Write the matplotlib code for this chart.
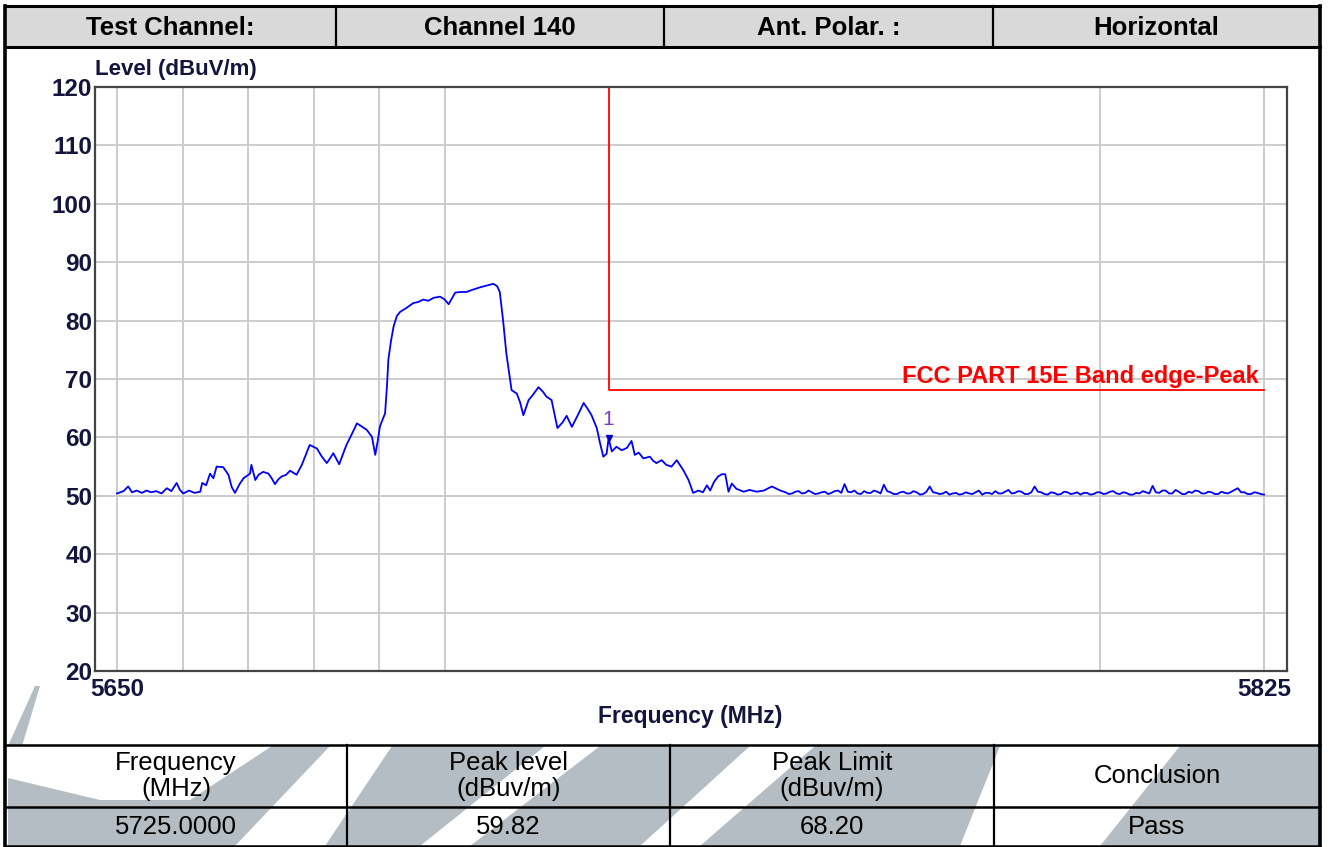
import matplotlib
matplotlib.use('Agg')
import matplotlib.pyplot as plt
from matplotlib.patches import Polygon, Rectangle

plt.rcParams['font.family'] = ['Liberation Sans', 'DejaVu Sans']

# ---------- DATA ----------
header_cells = ['Test Channel:', 'Channel 140', 'Ant. Polar. :', 'Horizontal']
table_heads = ['Frequency\n(MHz)', 'Peak level\n(dBuv/m)', 'Peak Limit\n(dBuv/m)', 'Conclusion']
table_vals = ['5725.0000', '59.82', '68.20', 'Pass']

# measured trace, in-band and skirt (MHz, dBuV/m)
band_freq = [
    5650.0, 5651.0, 5651.7, 5652.3, 5653.0, 5653.8, 5654.5, 5655.2, 5656.0, 5656.8,
    5657.6, 5658.3, 5659.1, 5659.6, 5660.1, 5661.0, 5661.8, 5662.7, 5663.0, 5663.6,
    5664.2, 5664.7, 5665.2, 5666.2, 5667.0, 5667.5, 5668.0, 5668.7, 5669.3, 5670.3,
    5670.5, 5671.1, 5671.6, 5672.3, 5673.1, 5673.6, 5674.1, 5674.6, 5675.1, 5675.8,
    5676.4, 5677.4, 5678.2, 5678.8, 5679.4, 5680.5, 5681.2, 5682.0, 5682.5, 5683.0,
    5683.9, 5684.5, 5685.0, 5685.8, 5686.6, 5687.3, 5688.1, 5688.9, 5689.4, 5689.8,
    5690.1, 5690.5, 5690.9, 5691.2, 5691.4, 5691.8, 5692.2, 5692.7, 5693.2, 5694.2,
    5695.2, 5696.0, 5696.7, 5697.5, 5698.3, 5699.3, 5700.0, 5700.6, 5701.1, 5701.6,
    5702.4, 5703.3, 5704.3, 5705.4, 5706.4, 5707.4, 5708.0, 5708.4, 5708.9, 5709.4,
    5710.2, 5711.0, 5711.5, 5712.0, 5712.8, 5713.4, 5714.3, 5715.0, 5715.5, 5716.3,
    5717.2, 5718.0, 5718.6, 5719.4, 5720.3, 5721.2, 5721.8, 5722.4, 5723.2, 5723.7,
    5724.2, 5724.7, 5725.0, 5725.5, 5726.2, 5727.0, 5727.8, 5728.5, 5729.0, 5729.6,
    5730.3, 5731.3, 5731.8, 5732.3, 5733.1, 5733.8, 5734.6, 5735.4, 5736.4, 5737.2,
    5737.9, 5738.7, 5739.4, 5740.0, 5740.5, 5741.1, 5741.7, 5742.3, 5742.8, 5743.3,
    5743.8, 5744.5, 5745.6, 5746.5, 5747.6, 5748.7, 5749.9, 5751.2,
]
band_level = [
    50.4, 50.8, 51.6, 50.6, 50.9, 50.5, 50.9, 50.6, 50.8, 50.4,
    51.3, 50.8, 52.2, 51.0, 50.4, 50.9, 50.5, 50.7, 52.2, 51.8,
    53.8, 53.0, 55.0, 54.9, 53.6, 51.5, 50.5, 52.0, 53.0, 53.8,
    55.3, 52.7, 53.6, 54.1, 53.8, 53.0, 52.0, 52.8, 53.3, 53.6,
    54.3, 53.6, 55.3, 57.0, 58.7, 58.1, 56.8, 55.6, 56.4, 57.3,
    55.4, 57.2, 58.7, 60.5, 62.4, 61.9, 61.3, 60.1, 57.0, 59.5,
    61.8, 63.0, 64.1, 69.0, 73.3, 76.5, 79.0, 80.8, 81.5, 82.2,
    83.0, 83.2, 83.6, 83.4, 83.9, 84.1, 83.6, 82.8, 83.8, 84.8,
    84.9, 84.9, 85.3, 85.7, 86.0, 86.3, 85.9, 84.9, 80.1, 74.4,
    68.1, 67.5, 66.0, 63.8, 66.4, 67.2, 68.6, 67.8, 67.0, 66.4,
    61.6, 62.6, 63.7, 61.8, 63.8, 65.9, 64.9, 63.8, 61.6, 59.0,
    56.7, 57.2, 59.8, 57.6, 58.4, 57.8, 58.2, 59.4, 57.0, 57.4,
    56.4, 56.7, 56.0, 55.6, 56.1, 55.3, 55.0, 56.1, 54.4, 52.7,
    50.5, 50.9, 50.6, 51.8, 50.9, 52.4, 53.3, 53.7, 53.7, 50.7,
    52.1, 51.2, 50.7, 51.0, 50.7, 50.9, 51.6, 50.9,
]

# measured trace, noise floor above the band edge
floor_freq = [
    5752.0, 5752.5, 5753.0, 5753.5, 5754.0, 5754.5, 5755.0, 5755.5, 5756.0, 5756.5,
    5757.0, 5757.5, 5758.0, 5758.5, 5759.0, 5759.5, 5760.0, 5760.5, 5761.0, 5761.5,
    5762.0, 5762.5, 5763.0, 5763.5, 5764.0, 5764.5, 5765.0, 5765.5, 5766.0, 5766.5,
    5767.0, 5767.5, 5768.0, 5768.5, 5769.0, 5769.5, 5770.0, 5770.5, 5771.0, 5771.5,
    5772.0, 5772.5, 5773.0, 5773.5, 5774.0, 5774.5, 5775.0, 5775.5, 5776.0, 5776.5,
    5777.0, 5777.5, 5778.0, 5778.5, 5779.0, 5779.5, 5780.0, 5780.5, 5781.0, 5781.5,
    5782.0, 5782.5, 5783.0, 5783.5, 5784.0, 5784.5, 5785.0, 5785.5, 5786.0, 5786.5,
    5787.0, 5787.5, 5788.0, 5788.5, 5789.0, 5789.5, 5790.0, 5790.5, 5791.0, 5791.5,
    5792.0, 5792.5, 5793.0, 5793.5, 5794.0, 5794.5, 5795.0, 5795.5, 5796.0, 5796.5,
    5797.0, 5797.5, 5798.0, 5798.5, 5799.0, 5799.5, 5800.0, 5800.5, 5801.0, 5801.5,
    5802.0, 5802.5, 5803.0, 5803.5, 5804.0, 5804.5, 5805.0, 5805.5, 5806.0, 5806.5,
    5807.0, 5807.5, 5808.0, 5808.5, 5809.0, 5809.5, 5810.0, 5810.5, 5811.0, 5811.5,
    5812.0, 5812.5, 5813.0, 5813.5, 5814.0, 5814.5, 5815.0, 5815.5, 5816.0, 5816.5,
    5817.0, 5817.5, 5818.0, 5818.5, 5819.0, 5819.5, 5820.0, 5820.5, 5821.0, 5821.5,
    5822.0, 5822.5, 5823.0, 5823.5, 5824.0, 5824.5, 5825.0,
]
floor_level = [
    50.6, 50.3, 50.4, 50.7, 50.8, 50.4, 50.5, 50.9, 50.6, 50.3,
    50.4, 50.6, 50.7, 50.3, 50.5, 50.8, 50.9, 50.5, 52.0, 50.7,
    50.6, 50.9, 50.4, 50.3, 50.8, 50.5, 50.5, 50.9, 50.7, 50.4,
    51.9, 50.8, 50.6, 50.3, 50.3, 50.6, 50.7, 50.4, 50.4, 50.8,
    50.6, 50.2, 50.3, 50.7, 51.6, 50.6, 50.5, 50.3, 50.4, 50.7,
    50.2, 50.4, 50.5, 50.2, 50.3, 50.6, 50.4, 50.3, 50.6, 50.9,
    50.2, 50.5, 50.5, 50.3, 50.8, 50.4, 50.4, 50.7, 51.0, 50.4,
    50.5, 50.8, 50.7, 50.3, 50.3, 50.6, 51.6, 50.7, 50.6, 50.3,
    50.2, 50.6, 50.5, 50.2, 50.3, 50.7, 50.6, 50.3, 50.4, 50.6,
    50.2, 50.5, 50.5, 50.2, 50.3, 50.6, 50.6, 50.3, 50.4, 50.7,
    50.8, 50.4, 50.3, 50.6, 50.5, 50.2, 50.2, 50.5, 50.4, 50.8,
    50.6, 50.4, 51.7, 50.6, 50.5, 50.9, 50.9, 50.4, 50.4, 51.0,
    50.7, 50.3, 50.3, 50.7, 50.5, 50.9, 50.8, 50.4, 50.4, 50.7,
    50.6, 50.3, 50.3, 50.7, 50.5, 50.4, 50.7, 51.0, 51.3, 50.6,
    50.6, 50.3, 50.3, 50.6, 50.5, 50.3, 50.2,
]

limit_freq = [5725, 5725, 5825]
limit_level = [120, 68.2, 68.2]
limit_label = 'FCC PART 15E Band edge-Peak'

marker_freq = 5725.0
marker_level = 59.82

y_ticks = [20, 30, 40, 50, 60, 70, 80, 90, 100, 110, 120]
x_ticks = [5650, 5825]
x_grid = [5650, 5660, 5670, 5680, 5690, 5700, 5800, 5825]

# ---------- FIGURE ----------
W, H = 1328, 847
fig = plt.figure(figsize=(W / 100, H / 100), dpi=100)

# page layer in pixel coordinates (y down)
bg = fig.add_axes([0, 0, 1, 1])
bg.set_xlim(0, W)
bg.set_ylim(H, 0)
bg.axis('off')

# watermark swooshes
wm = '#b4bcc4'
wm_shapes = [
    [(8, 746), (22, 746), (40, 686), (35, 686)],
    [(8, 778), (8, 846), (235, 846), (330, 746), (272, 746), (190, 800), (100, 800)],
    [(392, 746), (545, 746), (420, 846), (325, 846)],
    [(600, 746), (750, 746), (640, 846), (470, 846)],
    [(815, 746), (1000, 746), (960, 846), (700, 846)],
    [(1180, 746), (1320, 746), (1320, 846), (1100, 846)],
]
for pts in wm_shapes:
    bg.add_patch(Polygon(pts, closed=True, facecolor=wm, edgecolor='none', zorder=1))

# header band
bg.add_patch(Rectangle((5, 6), 1315, 41, facecolor='#d9d9d9', edgecolor='none', zorder=1))
head_x = [5, 336, 664, 993, 1320]
for i, txt in enumerate(header_cells):
    bg.text((head_x[i] + head_x[i + 1]) / 2, 28, txt, ha='center', va='center',
            fontsize=18.5, fontweight='bold', zorder=3)
for x in head_x[1:-1]:
    bg.plot([x, x], [6, 47], color='black', lw=1.6, zorder=2)
bg.plot([5, 1320], [6, 6], color='black', lw=2.2, zorder=2)
bg.plot([5, 1320], [47, 47], color='black', lw=2.2, zorder=2)
bg.plot([5, 5], [6, H], color='black', lw=2.6, zorder=2)
bg.plot([1320, 1320], [6, H], color='black', lw=2.6, zorder=2)

# result table
tab_x = [5, 347, 670, 994, 1320]
for i in range(4):
    cx = (tab_x[i] + tab_x[i + 1]) / 2
    bg.text(cx, 776, table_heads[i], ha='center', va='center', fontsize=18.5,
            linespacing=1.1, zorder=3)
    bg.text(cx, 827, table_vals[i], ha='center', va='center', fontsize=18.5, zorder=3)
for x in tab_x[1:-1]:
    bg.plot([x, x], [745, 846], color='black', lw=1.6, zorder=2)
for y in [745, 807, 846]:
    bg.plot([5, 1320], [y, y], color='black', lw=1.8, zorder=2)

# ---------- SPECTRUM PLOT ----------
px_per_mhz = (1264 - 117) / 175.0
ax = fig.add_axes([95 / W, 1 - 671 / H, (1287 - 95) / W, (671 - 87) / H])
ax.set_zorder(2)
ax.set_xlim(5650 - 22 / px_per_mhz, 5825 + 23 / px_per_mhz)
ax.set_ylim(20, 120)

for f in x_grid:
    ax.axvline(f, color='#cccccc', lw=1.4, zorder=1)
for v in y_ticks[1:]:
    ax.axhline(v, color='#cccccc', lw=1.4, zorder=1)

ax.plot(limit_freq, limit_level, color='#ff0000', lw=1.3, zorder=2)
ax.plot(band_freq + floor_freq, band_level + floor_level, color='#0000ff', lw=1.3, zorder=3)
ax.plot([marker_freq], [marker_level], marker='v', ms=5, color='#0000cc', zorder=4)
ax.text(marker_freq, marker_level + 1.6, '1', ha='center', va='bottom',
        fontsize=15, color='#7b3fc4', zorder=4)
ax.text(5824.2, 69.4, limit_label, ha='right', va='baseline', fontsize=17,
        fontweight='bold', color='#ff0000', zorder=4)

ax.set_yticks(y_ticks)
ax.set_xticks(x_ticks)
ax.tick_params(length=0, labelsize=17.5, colors='#14143c')
ax.tick_params(axis='y', pad=2)
ax.tick_params(axis='x', pad=5)
for lab in ax.get_xticklabels() + ax.get_yticklabels():
    lab.set_fontweight('bold')
for sp in ax.spines.values():
    sp.set_color('#444444')
    sp.set_linewidth(1.6)

bg.text(95, 70, 'Level (dBuV/m)', ha='left', va='center', fontsize=16,
        fontweight='bold', color='#14143c', zorder=3)
bg.text(690, 716, 'Frequency (MHz)', ha='center', va='center', fontsize=16.5,
        fontweight='bold', color='#14143c', zorder=3)

fig.savefig('out.png', dpi=100)
